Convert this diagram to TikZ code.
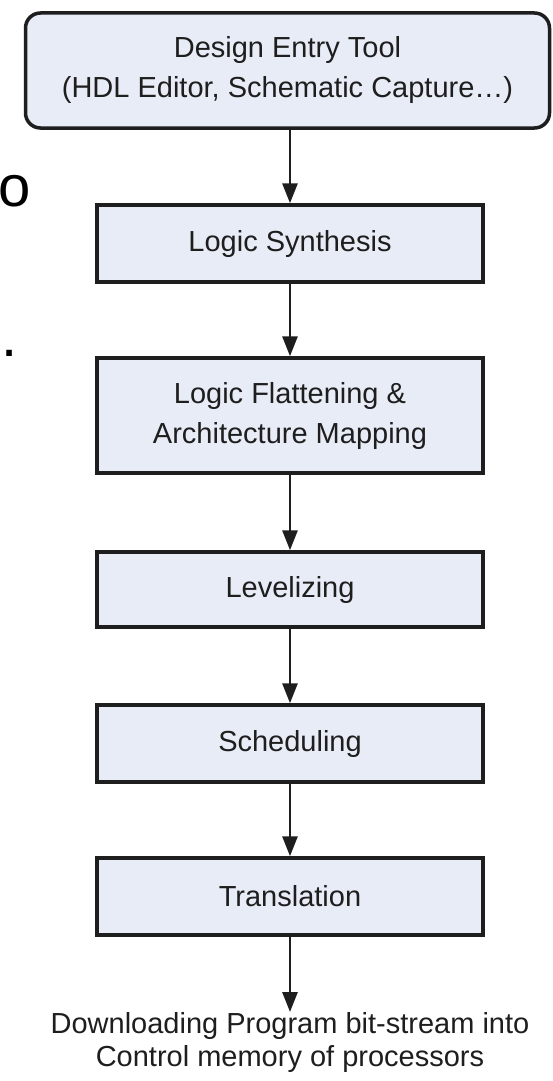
\documentclass[tikz,border=0pt]{standalone}
\usepackage{fontspec}
\setmainfont{Liberation Sans}
\usetikzlibrary{arrows.meta}
\definecolor{boxfill}{RGB}{232,236,246}
\definecolor{ink}{RGB}{30,30,30}
\begin{document}
\begin{tikzpicture}[x=1pt,y=-1pt,
  stepbox/.style={draw=ink, line width=3.5pt, fill=boxfill, minimum width=386pt,
    inner sep=0pt, align=center, text=ink, font=\fontsize{29}{40}\selectfont},
  flow/.style={draw=ink, line width=2.8pt, -{Triangle[length=20pt,width=15pt]}},
  frag/.style={inner sep=0pt, anchor=base west, text=black, font=\fontsize{58}{58}\selectfont}]
\useasboundingbox (0,0) rectangle (552,1081);
\fill[white] (0,0) rectangle (552,1081);

\node[frag] (fragO) at (-1.5,206) {o};
\node[frag] (fragDot) at (1.5,356) {.};

\node[stepbox, rounded corners=15pt, minimum width=524pt, minimum height=115pt] (entry) at (287.5,70.5)
  {Design Entry Tool\\(HDL Editor, Schematic Capture\ldots)};
\node[stepbox, minimum height=77pt] (synth) at (290,243.5) {Logic Synthesis};
\node[stepbox, minimum height=115pt] (flat) at (290,415.5) {Logic Flattening \&\\Architecture Mapping};
\node[stepbox, minimum height=75pt] (level) at (290,589.5) {Levelizing};
\node[stepbox, minimum height=77pt] (sched) at (290,743.5) {Scheduling};
\node[stepbox, minimum height=77pt] (trans) at (290,896.5) {Translation};
\node[inner sep=0pt, anchor=north, align=center, text=ink, font=\fontsize{29}{33}\selectfont] (out) at (290,1012)
  {Downloading Program bit-stream into\\Control memory of processors};

\draw[flow] (entry.south -| synth.north) -- (synth.north);
\draw[flow] (synth) -- (flat);
\draw[flow] (flat) -- (level);
\draw[flow] (level) -- (sched);
\draw[flow] (sched) -- (trans);
\draw[flow] (trans) -- (out);
\end{tikzpicture}
\end{document}
